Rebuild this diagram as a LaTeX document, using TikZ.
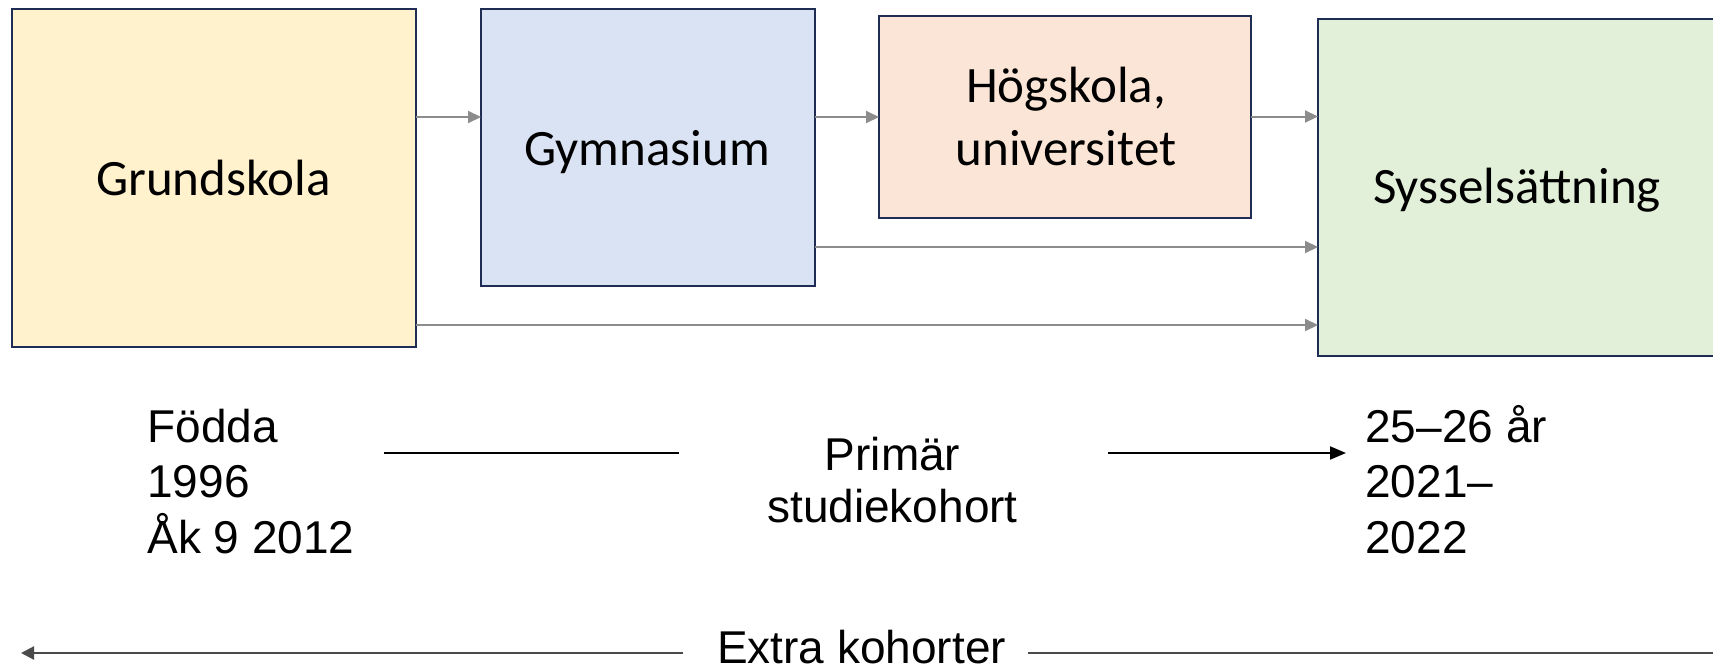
\documentclass[tikz,border=0pt]{standalone}
\usepackage{fontspec}
\setmainfont{Liberation Sans}
\newfontfamily\calfont{Carlito}
\usetikzlibrary{arrows.meta}
\definecolor{bordercol}{HTML}{1F2D55}
\definecolor{fillyellow}{HTML}{FFF2CC}
\definecolor{fillblue}{HTML}{DAE3F3}
\definecolor{fillpeach}{HTML}{FBE5D6}
\definecolor{fillgreen}{HTML}{E2F0D9}
\definecolor{flowgray}{HTML}{8C8C8C}
\definecolor{axisgray}{HTML}{4A4A4A}
\begin{document}
\begin{tikzpicture}[x=0.5pt,y=-0.5pt,
  box/.style={draw=bordercol, line width=1pt, inner sep=0pt, outer sep=0pt},
  boxlabel/.style={font=\calfont\fontsize{25.5}{31.5}\selectfont, inner sep=0pt, align=center, anchor=base},
  flow/.style={draw=flowgray, line width=1pt, -{Triangle[length=6.5pt,width=6pt]}},
  note/.style={font=\fontsize{23}{27.75}\selectfont, inner sep=0pt, align=left, anchor=base west},
  timeline/.style={draw=black, line width=1pt},
  timearrow/.style={draw=black, line width=1pt, -{Triangle[length=8pt,width=6.5pt]}},
  extraline/.style={draw=axisgray, line width=1.1pt}
]
\useasboundingbox (0,0) rectangle (1713,669);
\fill[white] (0,0) rectangle (1713,669);

% boxes
\node[box, fill=fillyellow, minimum width=202pt, minimum height=169pt] (grund) at (214,178) {};
\node[box, fill=fillblue, minimum width=167pt, minimum height=138.5pt] (gym) at (648,147.5) {};
\node[box, fill=fillpeach, minimum width=186pt, minimum height=101pt] (hog) at (1065,117) {};
\node[box, fill=fillgreen, minimum width=200.5pt, minimum height=168.5pt] (syss) at (1518.5,187.5) {};

% box labels (multi-line nodes are anchored at the last line's baseline)
\node[boxlabel] (tgrund) at (213.5,195) {Grundskola};
\node[boxlabel] (tgym) at (647,165) {Gymnasium};
\node[boxlabel] (thog) at (1066,165) {Högskola,\\universitet};
\node[boxlabel] (tsyss) at (1517,203) {Sysselsättning};

% flow levels
\coordinate (ya) at (0,117);
\coordinate (yb) at (0,116.5);
\coordinate (yc) at (0,247);
\coordinate (yd) at (0,325);

\draw[flow] (grund.east |- ya) -- (gym.west |- ya);
\draw[flow] (gym.east |- ya) -- (hog.west |- ya);
\draw[flow] (hog.east |- yb) -- (syss.west |- yb);
\draw[flow] (gym.east |- yc) -- (syss.west |- yc);
\draw[flow] (grund.east |- yd) -- (syss.west |- yd);

% timeline texts
\node[note] (born) at (147,553) {Födda\\1996\\Åk 9 2012};
\node[font=\fontsize{23}{26}\selectfont, inner sep=0pt, align=center, anchor=base] (prim) at (892.5,522) {Primär\\studiekohort};
\node[note] (age) at (1365,553) {25–26 år\\2021–\\2022};
\node[font=\fontsize{23}{27.75}\selectfont, inner sep=0pt, anchor=base] (extra) at (861.5,663) {Extra kohorter};

% timeline connectors
\coordinate (la) at (384,453);
\coordinate (lb) at (679,453);
\coordinate (lc) at (1108,453);
\coordinate (ld) at (1346,453);
\draw[timeline] (la) -- (lb);
\draw[timearrow] (lc) -- (ld);

\coordinate (ea) at (683,653);
\coordinate (eb) at (21,653);
\coordinate (ec) at (1028,653);
\coordinate (ed) at (1713,653);
\draw[extraline, -{Triangle[length=6.5pt,width=6.5pt]}] (ea) -- (eb);
\draw[extraline] (ec) -- (ed);
\end{tikzpicture}
\end{document}
